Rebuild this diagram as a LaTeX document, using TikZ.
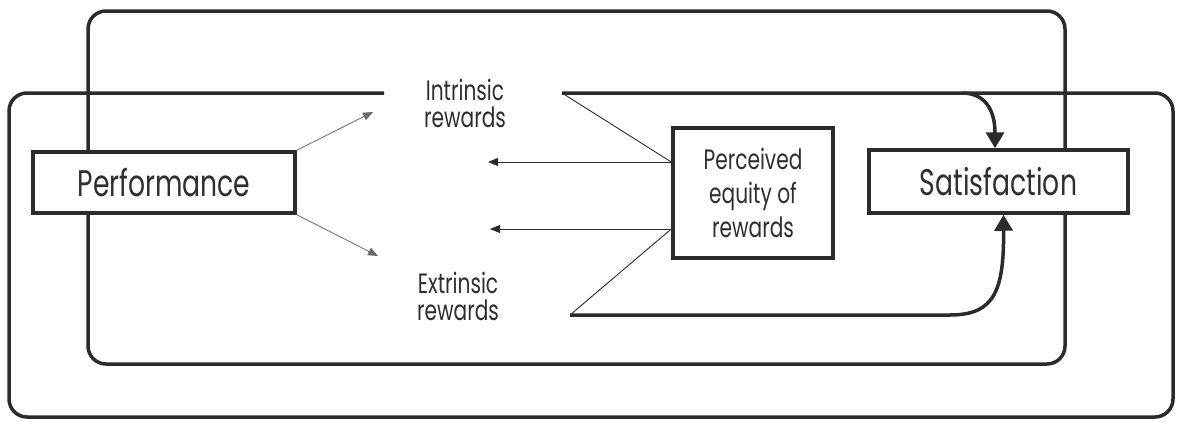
\documentclass[tikz,border=0pt]{standalone}
\usepackage{fontspec}
\setmainfont{Poppins}[FakeStretch=0.72]
\usetikzlibrary{arrows.meta,calc}
\definecolor{ink}{HTML}{2B2B2B}
\definecolor{txt}{HTML}{2E2E2E}
\begin{document}
\begin{tikzpicture}[x=1pt,y=-1pt,
  heavy/.style={draw=ink, line width=3.5pt},
  lite/.style={draw=ink, line width=0.9pt},
  faint/.style={draw=ink!70, line width=0.8pt},
  box/.style={heavy, fill=white, rectangle, inner sep=0pt, text=txt},
  lbl/.style={text=txt, align=center, inner sep=0pt, font=\fontsize{28}{27}\selectfont},
  bighead/.style={-{Triangle[length=16pt,width=18pt]}},
  smallhead/.style={-{Triangle[length=10pt,width=8pt]}}]
\fill[white] (0,0) rectangle (1178,421);
\useasboundingbox (0,0) rectangle (1178,421);
% upper loop
\draw[heavy, rounded corners=18pt] (88,11) rectangle (1065,364);
% lower loop (open at the top)
\coordinate (iL) at (384,93);
\coordinate (iR) at (562,93);
\coordinate (eR) at (570,315);
\draw[heavy, rounded corners=18pt] (iL) -- (9,93) -- (9,417) -- (1173,417) -- (1173,93) -- (iR);
% boxes
\node[box, minimum width=262pt, minimum height=61pt, font=\fontsize{37}{40}\selectfont] (perf) at (164,182.5) {Performance};
\node[box, minimum width=259pt, minimum height=63pt, font=\fontsize{37}{40}\selectfont] (sat) at (998.5,181.5) {Satisfaction};
\node[box, minimum width=160pt, minimum height=130pt, align=center, font=\fontsize{28}{34}\selectfont] (perc) at (753,193) {Perceived\\equity of\\rewards};
% labels
\node[lbl] (intr) at (465,103.5) {Intrinsic\\rewards};
\node[lbl] (extr) at (458,296.5) {Extrinsic\\rewards};
% connection points
\coordinate (pu) at ($(perc.west)+(0,-31)$);
\coordinate (pl) at ($(perc.west)+(0,36)$);
\coordinate (au) at (488,162);
\coordinate (al) at (490,229);
\coordinate (ti) at (373,112);
\coordinate (te) at (378,256);
\coordinate (tb) at (962,93);
\coordinate (bb) at (950,315);
% thin connectors
\draw[lite] (iR) -- (pu);
\draw[lite] (eR) -- (pl);
\draw[lite, smallhead] (pu) -- (au);
\draw[lite, smallhead] (pl) -- (al);
\draw[faint, smallhead] (perf.north east) -- (ti);
\draw[faint, smallhead] (perf.south east) -- (te);
% thick arrows into Satisfaction
\draw[heavy, bighead] (tb) .. controls (985,93) and (995,110) .. ($(sat.north)+(-3.5,0)$);
\draw[heavy, bighead] (eR) -- (bb) .. controls (995,315) and (1004,290) .. ($(sat.south)+(5,0)$);
\end{tikzpicture}
\end{document}
